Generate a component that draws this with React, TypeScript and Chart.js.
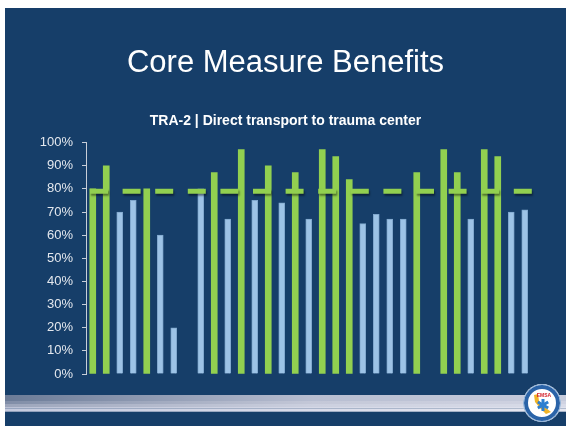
import React, { useEffect, useRef } from "react";
import { Chart, registerables } from "chart.js";

Chart.register(...registerables);

const TITLE = "Core Measure Benefits";
const SUBTITLE = "TRA-2 | Direct transport to trauma center";

const categories = [
  "1", "2", "3", "4", "5", "6", "7", "8", "9", "10", "11",
  "12", "13", "14", "15", "16", "17", "18", "19", "20", "21", "22",
  "23", "24", "25", "26", "27", "28", "29", "30", "31", "32", "33",
];

const greenSeries = [
  80, 90, null, null, 80, null, null, null, null, 87, null,
  97, null, 90, null, 87, null, 97, 94, 84, null, null,
  null, null, 87, null, 97, 87, null, 97, 94, null, null,
];

const blueSeries = [
  null, null, 70, 75, null, 60, 20, null, 80, null, 67,
  null, 75, null, 74, null, 67, null, null, null, 65, 69,
  67, 67, null, null, null, null, 67, null, null, 70, 71,
];

const TARGET = 79;
const yTicks = [0, 10, 20, 30, 40, 50, 60, 70, 80, 90, 100];

const BG = "#163e69";
const GREEN = "#92d050";
const BLUE = "#9dc3e6";
const FONT = "'Liberation Sans', Arial, sans-serif";

const slidePlugin = {
  id: "slide",
  beforeDraw(chart: any) {
    const { ctx, width } = chart;
    ctx.save();
    ctx.fillStyle = BG;
    ctx.fillRect(0, 0, width, chart.height);
    // decorative band
    const rows: [number, number, string, string, string][] = [
      [387, 393, "#6b7b97", "#b8bed1", "#c6cbdc"],
      [393, 396, "#808da7", "#c4c8d8", "#d0d3e2"],
      [396, 399, "#9ca5bb", "#ccd0df", "#d8dbe8"],
      [399, 400.5, "#bcc2d6", "#d6d9e7", "#e0e2ee"],
      [400.5, 403.7, "#c5cade", "#dadcea", "#e6e7f1"],
    ];
    rows.forEach(([y0, y1, c0, cm, c1]) => {
      const g = ctx.createLinearGradient(0, 0, width, 0);
      g.addColorStop(0, c0);
      g.addColorStop(0.55, cm);
      g.addColorStop(1, c1);
      ctx.fillStyle = g;
      ctx.fillRect(0, y0, width, y1 - y0);
    });
    ctx.restore();
  },
  afterDatasetsDraw(chart: any) {
    const { ctx, chartArea, scales } = chart;
    const y = scales.y.getPixelForValue(TARGET);
    ctx.save();
    ctx.strokeStyle = GREEN;
    ctx.lineWidth = 5;
    ctx.setLineDash([18, 14.6]);
    ctx.shadowColor = "rgba(0,0,0,0.45)";
    ctx.shadowOffsetX = 1;
    ctx.shadowOffsetY = 2;
    ctx.shadowBlur = 2;
    ctx.beginPath();
    ctx.moveTo(chartArea.left + 4, y);
    ctx.lineTo(chartArea.right + 4.5, y);
    ctx.stroke();
    ctx.restore();
  },
  afterDraw(chart: any) {
    const { ctx } = chart;
    const cx = 537;
    const cy = 395;
    ctx.save();
    ctx.beginPath();
    ctx.arc(cx, cy, 19, 0, Math.PI * 2);
    ctx.fillStyle = "#ffffff";
    ctx.fill();
    ctx.beginPath();
    ctx.arc(cx, cy, 16, 0, Math.PI * 2);
    ctx.strokeStyle = "#2a63a8";
    ctx.lineWidth = 4;
    ctx.stroke();
    ctx.beginPath();
    ctx.arc(cx, cy, 18.5, 0, Math.PI * 2);
    ctx.strokeStyle = "#8fb0d6";
    ctx.lineWidth = 1;
    ctx.stroke();
    // orange state shape
    ctx.beginPath();
    ctx.moveTo(cx - 8, cy - 8);
    ctx.lineTo(cx - 4, cy - 9);
    ctx.lineTo(cx - 3, cy - 2);
    ctx.lineTo(cx + 4, cy + 5);
    ctx.lineTo(cx + 9, cy + 9);
    ctx.lineTo(cx + 4, cy + 11);
    ctx.lineTo(cx - 2, cy + 5);
    ctx.lineTo(cx - 7, cy - 1);
    ctx.closePath();
    ctx.fillStyle = "#f0b429";
    ctx.fill();
    // star of life
    ctx.fillStyle = "#2f7fd0";
    for (let i = 0; i < 3; i++) {
      ctx.save();
      ctx.translate(cx + 1, cy + 2);
      ctx.rotate((i * Math.PI) / 3);
      ctx.fillRect(-1.5, -6, 3, 12);
      ctx.restore();
    }
    ctx.fillStyle = "#d3202a";
    ctx.font = `bold 5px ${FONT}`;
    ctx.textAlign = "center";
    ctx.fillText("EMSA", cx + 2, cy - 6);
    ctx.restore();
  },
};

export default function App() {
  const ref = useRef<HTMLCanvasElement | null>(null);

  useEffect(() => {
    if (!ref.current) return;
    const chart = new Chart(ref.current, {
      type: "bar",
      data: {
        labels: categories,
        datasets: [
          {
            label: "Green",
            data: greenSeries,
            backgroundColor: GREEN,
            borderWidth: 0,
            barThickness: 6,
            grouped: false,
          },
          {
            label: "Blue",
            data: blueSeries,
            backgroundColor: BLUE,
            borderColor: "#7fa6cc",
            borderWidth: 1,
            barThickness: 6,
            grouped: false,
          },
        ],
      } as any,
      options: {
        responsive: false,
        animation: false,
        devicePixelRatio: 1,
        layout: { padding: { top: 0, bottom: 52, left: 0, right: 0 } },
        plugins: {
          legend: { display: false },
          tooltip: { enabled: false },
          title: {
            display: true,
            text: TITLE,
            color: "#ffffff",
            font: { family: FONT, size: 31, weight: "normal" },
            padding: { top: 37, bottom: 0 },
          },
          subtitle: {
            display: true,
            text: SUBTITLE,
            color: "#ffffff",
            font: { family: FONT, size: 14, weight: "bold" },
            padding: { top: 31, bottom: 12.6 },
          },
        },
        scales: {
          x: {
            display: false,
            offset: true,
            grid: { display: false },
          },
          y: {
            min: 0,
            max: 100,
            afterFit: (axis: any) => {
              axis.width = 81;
            },
            afterBuildTicks: (axis: any) => {
              axis.ticks = yTicks.map((v) => ({ value: v }));
            },
            ticks: {
              color: "#e4e8ee",
              font: { family: FONT, size: 13 },
              padding: 9,
              callback: (v: any) => `${v}%`,
            },
            grid: {
              display: true,
              drawOnChartArea: false,
              drawTicks: true,
              tickLength: 4,
              color: "#c8ced8",
            },
            border: { display: true, color: "#c8ced8", width: 1 },
          },
          spacer: {
            type: "linear",
            position: "right",
            display: true,
            min: 0,
            max: 100,
            grid: { display: false, drawTicks: false },
            border: { display: false },
            ticks: { display: false },
            afterFit: (axis: any) => {
              axis.width = 34.5;
            },
          },
        },
      } as any,
      plugins: [slidePlugin],
    });
    return () => chart.destroy();
  }, []);

  return (
    <div style={{ position: "absolute", left: 5, top: 8, width: 561, height: 418 }}>
      <canvas ref={ref} width={561} height={418} style={{ display: "block" }} />
    </div>
  );
}
